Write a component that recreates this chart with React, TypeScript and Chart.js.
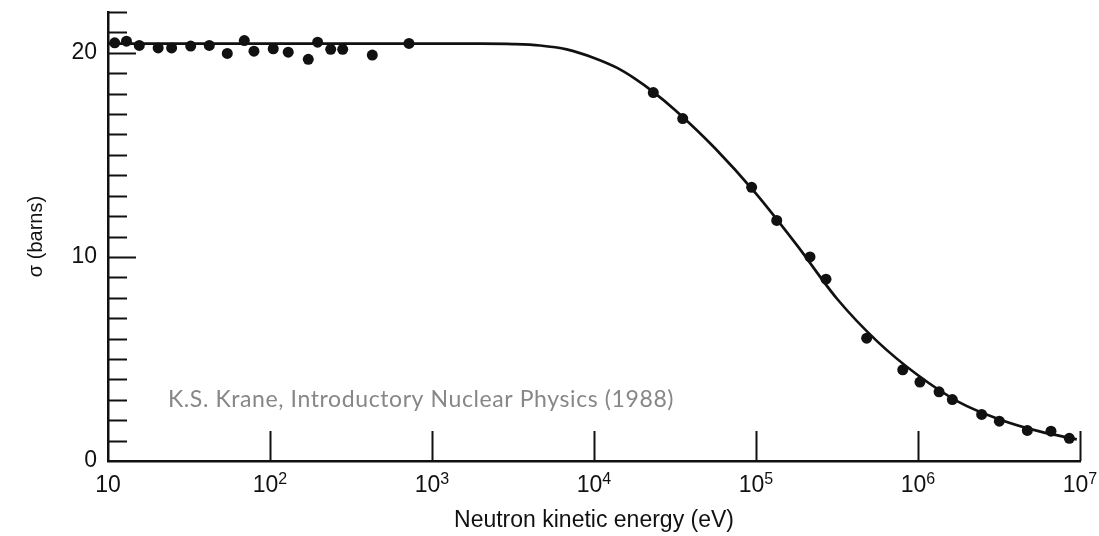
import React, { useEffect, useRef } from 'react';
import { Chart, registerables } from 'chart.js';

Chart.register(...registerables);

// ---- data ----
const measuredEnergy = [
  11.0, 13.0, 15.6, 20.4, 24.7, 32.4, 42.2, 54.5, 69.4, 79.6, 104.7, 129.6, 172.3, 196.8, 237, 281, 428, 721,
  23230, 35300, 94000, 134300, 215400, 270400, 482000, 805000, 1028000, 1349000, 1629000, 2472000, 3177000,
  4730000, 6620000, 8590000,
];
const measuredSigma = [
  20.49, 20.57, 20.36, 20.24, 20.24, 20.33, 20.36, 19.97, 20.6, 20.08, 20.2, 20.03, 19.68, 20.52, 20.17, 20.17,
  19.89, 20.46,
  18.05, 16.78, 13.41, 11.79, 10.0, 8.91, 6.02, 4.47, 3.87, 3.39, 3.01, 2.28, 1.95, 1.5, 1.46, 1.11,
];

// smooth theoretical curve
const curveEnergy = [
  10, 100, 1000, 2000, 3162, 4642, 6780, 10000, 14000, 17783, 23100, 31623, 56234, 100000, 177828, 316228,
  562341, 1000000, 1778279, 3162278, 5623413, 9550000,
];
const curveSigma = [
  20.45, 20.45, 20.45, 20.45, 20.43, 20.36, 20.17, 19.75, 19.25, 18.75, 18.1, 17.2, 15.3, 13.1, 10.6, 7.95,
  5.85, 4.2, 2.9, 2.05, 1.45, 1.06,
];

const xTickValues = [10, 100, 1000, 10000, 100000, 1000000, 10000000];
const xTickBases = ['10', '10', '10', '10', '10', '10', '10'];
const xTickExponents = ['', '2', '3', '4', '5', '6', '7'];
const yLabeledTicks = [0, 10, 20];

const xTitle = 'Neutron kinetic energy (eV)';
const yTitle = 'σ (barns)';
const creditText = 'K.S. Krane, Introductory Nuclear Physics (1988)';

const INK = '#111111';
const FONT = "'Liberation Sans', Arial, Helvetica, sans-serif";

const innerTicksPlugin = {
  id: 'innerTicks',
  afterDatasetsDraw(chart: any) {
    const { ctx, chartArea } = chart;
    const xs = chart.scales.x;
    const ys = chart.scales.y;
    ctx.save();
    ctx.strokeStyle = INK;
    ctx.lineWidth = 2;
    ys.ticks.forEach((t: any) => {
      if (t.value === 0) return;
      const py = Math.round(ys.getPixelForValue(t.value)) + 0.5;
      const len = yLabeledTicks.includes(t.value) ? 28 : 19;
      ctx.beginPath();
      ctx.moveTo(chartArea.left, py);
      ctx.lineTo(chartArea.left + len, py);
      ctx.stroke();
    });
    xs.ticks.forEach((t: any, i: number) => {
      if (i === 0) return;
      const px = Math.round(xs.getPixelForValue(t.value)) + 0.5;
      ctx.beginPath();
      ctx.moveTo(px, chartArea.bottom);
      ctx.lineTo(px, chartArea.bottom - 30);
      ctx.stroke();
    });

    // x tick labels with superscript exponents
    ctx.fillStyle = INK;
    ctx.textBaseline = 'alphabetic';
    ctx.textAlign = 'left';
    xs.ticks.forEach((t: any, i: number) => {
      const px = xs.getPixelForValue(t.value);
      const base = xTickBases[i];
      const exp = xTickExponents[i];
      ctx.font = `23px ${FONT}`;
      const wb = ctx.measureText(base).width;
      ctx.font = `16px ${FONT}`;
      const we = exp ? ctx.measureText(exp).width : 0;
      const start = px - (wb + we) / 2;
      ctx.font = `23px ${FONT}`;
      ctx.fillText(base, start, 492);
      if (exp) {
        ctx.font = `16px ${FONT}`;
        ctx.fillText(exp, start + wb, 484);
      }
    });

    // credit line
    ctx.font = "23px Lato, 'Open Sans', sans-serif";
    try {
      (ctx as any).letterSpacing = '0.6px';
    } catch (e) {
      /* ignore */
    }
    ctx.fillStyle = '#878787';
    ctx.fillText(creditText, 168, 407);
    ctx.restore();
  },
};

export default function App() {
  const canvasRef = useRef<HTMLCanvasElement | null>(null);

  useEffect(() => {
    document.body.style.margin = '0';
    const canvas = canvasRef.current;
    if (!canvas) return;

    const points = measuredEnergy.map((e, i) => ({ x: e, y: measuredSigma[i] }));
    const curve = curveEnergy.map((e, i) => ({ x: e, y: curveSigma[i] }));

    const chart = new Chart(canvas, {
      type: 'scatter',
      data: {
        datasets: [
          {
            label: 'fit',
            data: curve,
            showLine: true,
            borderColor: INK,
            borderWidth: 2.7,
            pointRadius: 0,
            cubicInterpolationMode: 'monotone',
            fill: false,
          },
          {
            label: 'measured',
            data: points,
            showLine: false,
            pointRadius: 5.5,
            pointBackgroundColor: INK,
            pointBorderColor: INK,
            pointBorderWidth: 0,
          },
        ],
      },
      options: {
        animation: false,
        responsive: true,
        maintainAspectRatio: false,
        layout: { padding: { top: 12, right: 19, bottom: 0, left: 0 } },
        plugins: {
          legend: { display: false },
          tooltip: { enabled: false },
        },
        scales: {
          x: {
            type: 'logarithmic',
            min: 10,
            max: 10000000,
            grid: { display: false, drawTicks: false },
            border: { display: true, color: INK, width: 2.5 },
            ticks: { display: false, autoSkip: false },
            afterBuildTicks: (scale: any) => {
              scale.ticks = xTickValues.map((v) => ({ value: v }));
            },
            afterFit: (scale: any) => {
              scale.height = 75;
              scale.paddingLeft = 0;
              scale.paddingRight = 0;
            },
            title: {
              display: true,
              text: xTitle,
              color: INK,
              font: { family: FONT, size: 23 },
              padding: { top: 0, bottom: 2 },
            },
          },
          y: {
            type: 'linear',
            min: 0,
            max: 22,
            grid: { display: false, drawTicks: false },
            border: { display: true, color: INK, width: 2.5 },
            ticks: {
              stepSize: 1,
              autoSkip: false,
              padding: 11,
              color: INK,
              font: { family: FONT, size: 23 },
              callback: (v: any) => (yLabeledTicks.includes(Number(v)) ? String(v) : ''),
            },
            afterFit: (scale: any) => {
              scale.width = 108;
              scale.paddingTop = 0;
              scale.paddingBottom = 0;
            },
            title: {
              display: true,
              text: yTitle,
              color: INK,
              font: { family: FONT, size: 20 },
              padding: { top: 24, bottom: 0 },
            },
          },
        },
      },
      plugins: [innerTicksPlugin],
    } as any);

    return () => chart.destroy();
  }, []);

  return (
    <div style={{ position: 'relative', width: '1099px', height: '536px' }}>
      <canvas ref={canvasRef} />
    </div>
  );
}
